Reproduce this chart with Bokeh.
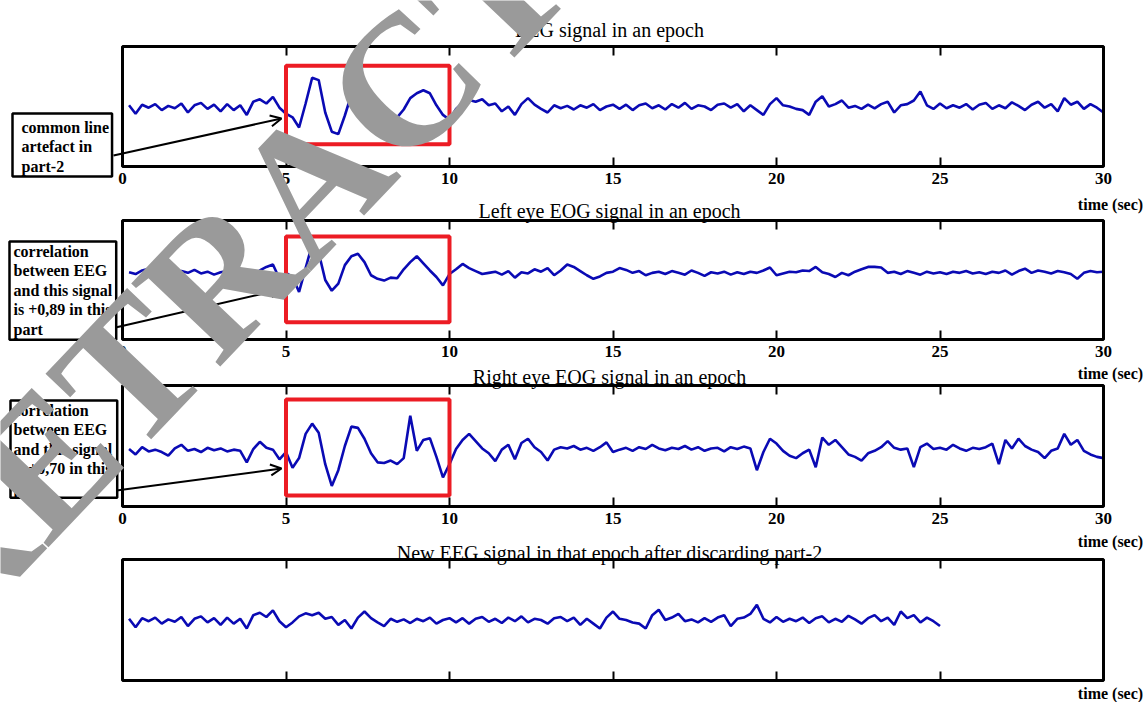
import numpy as np
from bokeh.plotting import figure
from bokeh.models import Range1d, LinearAxis, FixedTicker, Label, Arrow, OpenHead
from bokeh.embed import file_html
from bokeh.resources import INLINE

# ---------------- data ----------------
# samples every 0.2 s from 0.2 s to 30.0 s, amplitude in % of half panel height
t_step = 0.2
n_samples = 150
x_lim = (0.0, 30.0)
y_lim = (-100.0, 100.0)
part2 = (5.0, 10.0)           # discarded part (seconds)
tick_vals = [0, 5, 10, 15, 20, 25, 30]

eeg = [
    2, -12, 3, -2, 4, -6, 1, -3, 5, -10, 2, 6, -4, 3, -8, 4, -6, 2, -14, 8, 12, 5, 16, -2, -12,
    -18, -35, 5, 48, 44, -10, -42, -46, -15, 20, 36, 34, 20, 8, -5, -14, -18, -5, 14, 22, 27, 22, 2, -14, -22,
    -4, 6, 11, 8, 12, 2, 5, -8, 0, -14, 4, 14, 3, -4, -10, 2, -3, 1, -5, 2, -2, 4, -6, 0, 3,
    -4, 3, -6, 2, 5, -3, 2, -5, 4, -2, 6, -4, 2, 0, -6, 3, 5, -2, 4, -8, 2, -6, -14, 4, 14,
    2, 0, -4, -6, -14, 8, 17, 0, 4, 10, -2, 1, -4, 3, -3, 4, 8, -10, 2, 4, 10, 25, 2, -4, 5,
    -3, 2, -2, 4, -5, 3, 6, -4, 2, -3, 7, 1, -6, 3, 8, -2, 4, -8, 14, 3, 8, -4, 4, -2, -10,
]
left_eog = [
    13, 10, 16, 19, 12, 6, 14, 11, 15, 12, 17, 11, 14, 9, 13, 15, 10, 14, 8, 9, 16, 22, 26, 2, 12,
    5, -20, 20, 60, 46, 0, -18, -6, 25, 40, 44, 30, 8, 2, -1, 4, 3, 18, 30, 40, 28, 16, 5, -9, 10,
    18, 27, 20, 15, 10, 12, 14, 9, 15, 4, 13, 11, 18, 14, 20, 8, 16, 26, 22, 15, 8, 2, 6, 12, 14,
    20, 17, 12, 15, 8, 12, 14, 10, 15, 12, 9, 16, 12, 7, 13, 11, 14, 9, 13, 10, 14, 12, 16, 21, 8,
    11, 14, 13, 16, 15, 22, 13, 10, 5, 12, 8, 14, 18, 22, 22, 21, 12, 14, 10, 15, 12, 9, 14, 11, 13,
    10, 14, 12, 15, 11, 13, 10, 14, 12, 16, 9, 15, 19, 12, 16, 14, 11, 15, 13, 10, 2, 12, 15, 13, 14,
]
right_eog = [
    -5, -14, -2, -9, -6, -10, -16, -4, 2, -8, -5, -10, -3, -7, -4, -9, -6, -8, -27, -5, 7, -3, -6, -22, -10,
    -36, -20, 20, 37, 22, -30, -66, -40, 0, 32, 30, 12, -12, -27, -28, -24, -30, -20, 50, -8, 10, 13, -18, -52, -30,
    -5, 10, 20, 8, -4, -12, -25, -6, 2, -22, 5, 12, -2, -10, -24, -6, -2, -4, 0, -6, -3, -8, -2, 6, -10,
    -6, -3, -8, -2, -5, 2, -4, -7, -3, -5, 0, -6, -2, -8, -4, -3, -9, -2, -5, -1, -4, -40, -10, 12, 4,
    -8, -16, -20, -12, -6, -35, 14, 2, 10, -2, -14, -18, -24, -12, -8, -2, 8, -3, -6, -4, -35, -2, 4, -5, -3,
    -6, 2, -4, -8, -3, -5, -2, 4, -30, 10, -4, 12, 0, -6, -10, -20, -8, -4, 20, 2, 10, -8, -14, -18, -20,
]
titles = [
    "EEG signal in an epoch",
    "Left eye EOG signal in an epoch",
    "Right eye EOG signal in an epoch",
    "New EEG signal in that epoch after discarding part-2",
]
notes = [
    "common line\nartefact in\npart-2",
    "correlation\nbetween EEG\nand this signal\nis +0,89 in this\npart",
    "correlation\nbetween EEG\nand this signal\nis +0,70 in this\npart",
]
x_label = "time (sec)"
watermark = "RETRACTED"

t = np.round(np.arange(1, n_samples + 1) * t_step, 1)
eeg_a = np.array(eeg, dtype=float)
keep = (t <= part2[0]) | (t > part2[1])
t_new = np.where(t[keep] <= part2[0], t[keep], t[keep] - (part2[1] - part2[0]))
eeg_new = eeg_a[keep]
series = [(t, eeg_a), (t, np.array(left_eog, float)), (t, np.array(right_eog, float)), (t_new, eeg_new)]

# ---------------- layout (page pixels) ----------------
W, H = 1146, 702
LEFT, RIGHT = 122, 1103
BANDS = [(46, 166), (220, 339), (385, 506), (559, 680)]   # top / bottom of each panel box
BLUE = "#0a0ab4"
RED = "#ec1c24"
SERIF = "Liberation Serif"

sec_per_px = (x_lim[1] - x_lim[0]) / (RIGHT - LEFT)
x_range = Range1d(x_lim[0] - LEFT * sec_per_px, x_lim[1] + (W - RIGHT) * sec_per_px)

p = figure(width=W, height=H, x_range=x_range, y_range=Range1d(H, 0),
           min_border=0, min_border_left=0, min_border_right=0, min_border_top=0, min_border_bottom=0,
           output_backend="svg", toolbar_location=None, x_axis_location=None, y_axis_location=None)
p.xgrid.visible = False
p.ygrid.visible = False
p.outline_line_color = None
p.background_fill_color = "white"
p.border_fill_color = "white"
p.extra_x_ranges = {"px": Range1d(0, W)}

for i, (top, bot) in enumerate(BANDS):
    span = y_lim[1] - y_lim[0]
    per_px = span / (bot - top)
    p.extra_y_ranges[f"p{i}"] = Range1d(y_lim[1] - (H - top) * per_px, y_lim[1] + top * per_px)

red_y = [(68, -63), (73, -71), (77, -82)]
title_base = [29.5, 210, 376.5, 552.5]
xlab_base = [204, 373, 541, 693]
# box top-left corner and padding
note_pos = [
    (12, 113, dict(left=9, right=3, top=5, bottom=2)),
    (9, 241, dict(left=4, right=4, top=1, bottom=2)),
    (10, 400, dict(left=3, right=5, top=1, bottom=1)),
]
arrows = [((113, 155), (281, 118)), ((115, 327), (281, 289)), ((116, 490), (281, 468))]
WM_C = (310, 180)
WM_ANGLE = 0.81

for i in range(4):
    rn = f"p{i}"
    xs, ys = series[i]
    p.line(xs, ys, line_color=BLUE, line_width=2.6, y_range_name=rn)
    if i < 3:
        p.quad(left=[part2[0]], right=[part2[1]], top=[red_y[i][0]], bottom=[red_y[i][1]],
               fill_color=None, line_color=RED, line_width=4, y_range_name=rn)
    p.quad(left=[x_lim[0]], right=[x_lim[1]], top=[y_lim[1]], bottom=[y_lim[0]],
           fill_color=None, line_color="black", line_width=3, y_range_name=rn)

    ticks = tick_vals if i < 3 else tick_vals[1:-1]
    for side, loc in (("below", y_lim[0]), ("above", y_lim[1])):
        ax = LinearAxis(ticker=FixedTicker(ticks=ticks), y_range_name=rn, fixed_location=loc,
                        axis_line_color=None, major_tick_in=9, major_tick_out=0,
                        minor_tick_in=0, minor_tick_out=0, major_tick_line_width=2,
                        major_tick_line_color="black")
        if side == "below" and i < 3:
            ax.major_label_standoff = 6
            ax.major_label_text_font = SERIF
            ax.major_label_text_font_style = "bold"
            ax.major_label_text_font_size = "17px"
            ax.major_label_text_color = "black"
        else:
            ax.major_label_text_color = None
        p.add_layout(ax, side)

    p.add_layout(Label(x=609, y=title_base[i], x_range_name="px", text=titles[i],
                       text_align="center", text_baseline="alphabetic", text_font=SERIF,
                       text_font_size="20px", text_color="black"))
    p.add_layout(Label(x=1110, y=xlab_base[i], x_range_name="px", text=x_label,
                       text_align="center", text_baseline="alphabetic", text_font=SERIF,
                       text_font_style="bold", text_font_size="16px", text_color="black"))

for i in range(3):
    bx, by, pad = note_pos[i]
    p.add_layout(Label(x=bx, y=by, x_range_name="px", text=notes[i], text_align="left",
                       text_baseline="top", text_font=SERIF, text_font_style="bold",
                       text_font_size="16px", text_line_height=1.15, text_color="black",
                       border_line_color="black", border_line_width=2.5,
                       background_fill_color="white", padding=pad))
    (sx0, sy0), (sx1, sy1) = arrows[i]
    p.add_layout(Arrow(x_start=sx0, y_start=sy0, x_end=sx1, y_end=sy1, x_range_name="px",
                       line_width=2, line_color="black",
                       end=OpenHead(size=11, line_width=2, line_color="black")))

p.add_layout(Label(x=WM_C[0], y=WM_C[1], x_range_name="px", text=watermark, angle=WM_ANGLE,
                   text_align="center", text_baseline="middle", text_font=SERIF,
                   text_font_style="bold", text_font_size="186px", text_color="#9a9a9a"))

open("out.html", "w").write(file_html(p, INLINE))
